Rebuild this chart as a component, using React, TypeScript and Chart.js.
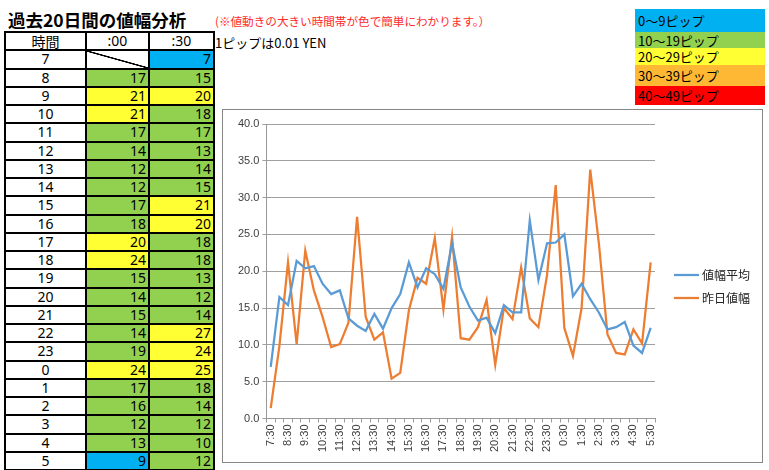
import React, { useEffect, useRef } from 'react';
import { Chart, registerables } from 'chart.js';

Chart.register(...registerables);

// ---------- data ----------
const hours = ['7', '8', '9', '10', '11', '12', '13', '14', '15', '16', '17', '18', '19', '20', '21', '22', '23', '0', '1', '2', '3', '4', '5'];
const range00: (number | null)[] = [null, 17, 21, 21, 17, 14, 12, 12, 17, 18, 20, 24, 15, 14, 15, 14, 19, 24, 17, 16, 12, 13, 9];
const range30: number[] = [7, 15, 20, 18, 17, 13, 14, 15, 21, 20, 18, 18, 13, 12, 14, 27, 24, 25, 18, 14, 12, 10, 12];

const xLabels = [
  '7:30', '8:00', '8:30', '9:00', '9:30', '10:00', '10:30', '11:00', '11:30', '12:00', '12:30',
  '13:00', '13:30', '14:00', '14:30', '15:00', '15:30', '16:00', '16:30', '17:00', '17:30',
  '18:00', '18:30', '19:00', '19:30', '20:00', '20:30', '21:00', '21:30', '22:00', '22:30',
  '23:00', '23:30', '0:00', '0:30', '1:00', '1:30', '2:00', '2:30', '3:00', '3:30',
  '4:00', '4:30', '5:00', '5:30',
];
const avgRange = [
  7.0, 16.5, 15.4, 21.4, 20.4, 20.7, 18.3, 16.9, 17.4, 13.6, 12.6,
  11.9, 14.2, 12.2, 15.0, 16.9, 21.2, 17.8, 20.4, 19.6, 17.6,
  23.8, 17.8, 15.2, 13.3, 13.7, 11.6, 15.4, 14.4, 14.4, 26.9,
  18.8, 23.8, 23.9, 25.0, 16.6, 18.3, 16.2, 14.4, 12.1, 12.4,
  13.1, 9.9, 8.9, 12.3,
];
const yesterdayRange = [
  1.4, 9.8, 21.2, 10.1, 22.8, 17.4, 13.8, 9.7, 10.1, 13.0, 27.4,
  13.8, 10.7, 11.7, 5.4, 6.2, 14.7, 19.1, 18.3, 24.5, 14.8,
  24.7, 10.9, 10.7, 12.4, 16.1, 7.3, 15.0, 13.5, 20.5, 13.6,
  12.4, 19.5, 31.7, 12.3, 8.5, 15.0, 33.8, 23.8, 11.4, 8.9,
  8.7, 12.1, 10.2, 21.2,
];
const seriesNames = ['値幅平均', '昨日値幅'];
const bandLabels = ['0〜9ピップ', '10〜19ピップ', '20〜29ピップ', '30〜39ピップ', '40〜49ピップ'];
const yMin = 0;
const yMax = 40;
const yStep = 5;

// ---------- styles ----------
const bandColors = ['#00b0f0', '#92d050', '#ffff33', '#ffb833', '#ff0000'];
const bandTops = [9, 32, 48, 65, 86, 105];
const lineColors = ['#5b9bd5', '#ed7d31'];
const cjk = '"Noto Sans CJK JP", "Noto Sans", sans-serif';
const num = '"Noto Sans", "Liberation Sans", sans-serif';

function cellColor(v: number | null) {
  if (v === null) return '#ffffff';
  return bandColors[Math.min(4, Math.floor(v / 10))];
}

// legend drawn on the chart canvas, to the right of the plot area
const sideLegend = {
  id: 'sideLegend',
  afterDraw(chart: any) {
    const { ctx, chartArea } = chart;
    const x0 = chartArea.right + 19;
    const rowGap = 23;
    const n = chart.data.datasets.length;
    const yStart = chart.height / 2 - ((n - 1) * rowGap) / 2;
    ctx.save();
    chart.data.datasets.forEach((ds: any, i: number) => {
      const y = Math.round(yStart + i * rowGap);
      ctx.strokeStyle = ds.borderColor;
      ctx.lineWidth = ds.borderWidth;
      ctx.beginPath();
      ctx.moveTo(x0, y);
      ctx.lineTo(x0 + 25, y);
      ctx.stroke();
      ctx.fillStyle = '#222';
      ctx.font = `12px ${cjk}`;
      ctx.textAlign = 'left';
      ctx.textBaseline = 'middle';
      ctx.fillText(ds.label, x0 + 28, y);
    });
    ctx.restore();
  },
};

function ChartBox() {
  const ref = useRef<HTMLCanvasElement | null>(null);
  useEffect(() => {
    if (!ref.current) return;
    let alive = true;
    const chart = new Chart(ref.current, {
      type: 'line',
      data: {
        labels: xLabels,
        datasets: [
          {
            label: seriesNames[0],
            data: avgRange,
            borderColor: lineColors[0],
            backgroundColor: lineColors[0],
            borderWidth: 2.25,
            pointRadius: 0,
            tension: 0,
          },
          {
            label: seriesNames[1],
            data: yesterdayRange,
            borderColor: lineColors[1],
            backgroundColor: lineColors[1],
            borderWidth: 2.25,
            pointRadius: 0,
            tension: 0,
          },
        ],
      },
      options: {
        responsive: false,
        animation: false,
        devicePixelRatio: 1,
        layout: { padding: { left: 12, top: 14, right: 107, bottom: 8 } },
        plugins: {
          tooltip: { enabled: false },
          legend: { display: false },
        },
        scales: {
          x: {
            offset: true,
            grid: {
              display: true,
              drawOnChartArea: false,
              drawTicks: true,
              tickLength: 4,
              color: '#999999',
              offset: true,
            },
            border: { display: true, color: '#999999' },
            ticks: {
              autoSkip: false,
              minRotation: 90,
              maxRotation: 90,
              padding: 2,
              color: '#404040',
              font: { family: '"Liberation Sans", sans-serif', size: 11 },
              callback: (_v: any, i: number) => (xLabels[i].endsWith(':30') ? xLabels[i] : ''),
            },
          },
          y: {
            min: yMin,
            max: yMax,
            grid: { color: '#a0a0a0', tickLength: 4, lineWidth: 1 },
            border: { display: true, color: '#999999' },
            ticks: {
              stepSize: yStep,
              padding: 3,
              color: '#404040',
              font: { family: '"Liberation Sans", sans-serif', size: 11 },
              callback: (v: any) => Number(v).toFixed(1),
            },
          },
        },
      } as any,
      plugins: [sideLegend],
    });
    const fonts: any = (document as any).fonts;
    if (fonts && fonts.load) {
      Promise.all([
        fonts.load('12px "Noto Sans CJK JP"', '値幅平均昨日'),
        fonts.load('11px "Liberation Sans"', '0123456789.:'),
      ])
        .catch(() => null)
        .then(() => {
          if (alive) chart.update();
        });
    }
    return () => {
      alive = false;
      chart.destroy();
    };
  }, []);
  return <canvas ref={ref} width={539} height={352} style={{ display: 'block', width: 539, height: 352 }} />;
}

export default function App() {
  const rowH = 18.25;
  return (
    <div style={{ position: 'absolute', left: 0, top: 0, width: 769, height: 470, overflow: 'hidden', background: '#fff' }}>
      <div style={{ position: 'absolute', left: 8, top: 9, fontFamily: cjk, fontWeight: 700, fontSize: 17.5, lineHeight: '22px', color: '#000', whiteSpace: 'nowrap' }}>
        過去20日間の値幅分析
      </div>
      <div style={{ position: 'absolute', left: 215, top: 14, fontFamily: cjk, fontSize: 11.6, lineHeight: '14px', color: '#ff2a2a', whiteSpace: 'nowrap' }}>
        (※値動きの大きい時間帯が色で簡単にわかります。）
      </div>
      <div style={{ position: 'absolute', left: 215, top: 34, fontFamily: cjk, fontSize: 13, lineHeight: '17px', color: '#000', whiteSpace: 'nowrap' }}>
        1ピップは0.01 YEN
      </div>

      <table
        style={{
          position: 'absolute',
          left: 4,
          top: 31,
          borderCollapse: 'collapse',
          tableLayout: 'fixed',
          width: 209,
          fontFamily: num,
          fontSize: 14,
          color: '#000',
        }}
      >
        <colgroup>
          <col style={{ width: 81 }} />
          <col style={{ width: 63 }} />
          <col style={{ width: 65 }} />
        </colgroup>
        <tbody>
          <tr style={{ height: rowH }}>
            <td style={{ border: '2px solid #000', textAlign: 'center', padding: 0, fontFamily: cjk, fontSize: 14, lineHeight: '14px' }}>時間</td>
            <td style={{ border: '2px solid #000', textAlign: 'center', padding: 0, lineHeight: '14px' }}>:00</td>
            <td style={{ border: '2px solid #000', textAlign: 'center', padding: 0, lineHeight: '14px' }}>:30</td>
          </tr>
          {hours.map((h, i) => (
            <tr key={h} style={{ height: rowH }}>
              <td style={{ border: '2px solid #000', textAlign: 'center', padding: 0, lineHeight: '14px' }}>{h}</td>
              <td
                style={{
                  border: '2px solid #000',
                  textAlign: 'right',
                  padding: '0 2px 0 0',
                  lineHeight: '14px',
                  background:
                    range00[i] === null
                      ? 'linear-gradient(to top right, #fff calc(50% - 1px), #000 calc(50% - 0.5px), #000 calc(50% + 0.5px), #fff calc(50% + 1px))'
                      : cellColor(range00[i]),
                }}
              >
                {range00[i] === null ? '' : range00[i]}
              </td>
              <td style={{ border: '2px solid #000', textAlign: 'right', padding: '0 2px 0 0', lineHeight: '14px', background: cellColor(range30[i]) }}>
                {range30[i]}
              </td>
            </tr>
          ))}
        </tbody>
      </table>

      {bandLabels.map((b, i) => (
        <div
          key={b}
          style={{
            position: 'absolute',
            left: 635,
            top: bandTops[i],
            width: 130,
            height: bandTops[i + 1] - bandTops[i],
            background: bandColors[i],
            fontFamily: cjk,
            fontSize: 13,
            color: '#000',
            display: 'flex',
            alignItems: 'center',
            paddingLeft: 3,
            boxSizing: 'border-box',
            lineHeight: '17px',
            whiteSpace: 'nowrap',
          }}
        >
          {b}
        </div>
      ))}

      <div style={{ position: 'absolute', left: 222, top: 109, width: 541, height: 354, border: '1px solid #868686', boxSizing: 'border-box', background: '#fff' }}>
        <div style={{ position: 'absolute', left: 0, top: 0 }}>
          <ChartBox />
        </div>
      </div>
    </div>
  );
}
